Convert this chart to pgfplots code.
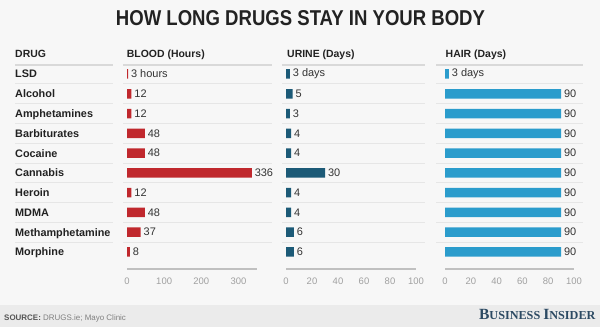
\documentclass[border=0pt]{standalone}
\usepackage{pgfplots}
\usepackage{pgfplotstable}
\pgfplotsset{compat=1.18}
\usepackage{fontspec}
\usepackage{graphicx}
\setmainfont{Liberation Sans}
\newfontfamily\biserif{Liberation Serif}

\definecolor{bg}{HTML}{F7F7F7}
\definecolor{footer}{HTML}{EBEBEB}
\definecolor{bloodred}{HTML}{C0282D}
\definecolor{urineblue}{HTML}{1C5A77}
\definecolor{hairblue}{HTML}{2B9CCC}
\definecolor{dark}{HTML}{222222}
\definecolor{valgray}{HTML}{333333}
\definecolor{tickgray}{HTML}{A0A0A0}
\definecolor{axisgray}{HTML}{C0C0C0}
\definecolor{headline}{HTML}{D9D9D9}
\definecolor{sepline}{HTML}{E6E6E6}
\definecolor{srcdark}{HTML}{555555}
\definecolor{srcgray}{HTML}{808080}
\definecolor{binavy}{HTML}{2C4A63}

\pgfplotstableread{
y x label
9 3 {3 hours}
8 12 12
7 12 12
6 48 48
5 48 48
4 336 336
3 12 12
2 48 48
1 37 37
0 8 8
}\blood
\pgfplotstableread{
y x label
9 3 {3 days}
8 5 5
7 3 3
6 4 4
5 4 4
4 30 30
3 4 4
2 4 4
1 6 6
0 6 6
}\urine
\pgfplotstableread{
y x label
9 3 {3 days}
8 90 90
7 90 90
6 90 90
5 90 90
4 90 90
3 90 90
2 90 90
1 90 90
0 90 90
}\hair

\pgfplotsset{colaxis/.style={
  scale only axis, width=130bp, height=204.9bp,
  anchor=north west,
  xmin=0, ymin=-0.86, ymax=9.5,
  axis x line*=bottom, axis y line=none,
  axis line style={draw=axisgray, line width=2bp, -},
  ytick=\empty,
  major tick length=0pt,
  /pgf/number format/assume math mode=true,
  xticklabel style={font=\fontsize{9.5}{10}\selectfont, text=tickgray, yshift=-5.5bp},
  xbar, bar width=9.5bp,
  nodes near coords, point meta=explicit symbolic,
  nodes near coords style={font=\fontsize{11}{12}\selectfont, text=valgray, anchor=west, inner xsep=2.8bp, inner ysep=0pt},
  clip=false,
}}

\begin{document}
\begin{tikzpicture}
\useasboundingbox (0,0) rectangle (600bp,-327bp);
\begin{scope}[x=1bp,y=-1bp]
\fill[bg] (0,0) rectangle (600,327);
\fill[footer] (0,305) rectangle (600,327);
% title
\node[anchor=north, inner sep=0, text=dark] at (300.5,10) {\resizebox{369bp}{15bp}{\bfseries HOW LONG DRUGS STAY IN YOUR BODY}};
% headers
\foreach \hx/\hdr in {15/DRUG, 126.7/BLOOD (Hours), 287/URINE (Days), 445.5/HAIR (Days)}
  \node[anchor=base west, inner sep=0, text=dark, font=\fontsize{10.5}{12}\selectfont\bfseries] at (\hx,57) {\hdr};
% header lines
\foreach \a/\b in {15/113, 123/272, 282/425, 436/583}
  \draw[headline, line width=2bp] (\a,64.6) -- (\b,64.6);
% row separators
\foreach \i in {0,...,8}
  \foreach \a/\b in {15/113, 123/272, 282/425, 436/583}
    \draw[sepline, line width=1bp] (\a,{83.89+19.78*\i}) -- (\b,{83.89+19.78*\i});
% row labels
\foreach \n [count=\i from 0] in {LSD, Alcohol, Amphetamines, Barbiturates, Cocaine, Cannabis, Heroin, MDMA, Methamphetamine, Morphine}
  \node[anchor=base west, inner sep=0, text=dark, font=\fontsize{10.9}{12}\selectfont\bfseries] at (15,{77.9+19.78*\i}) {\n};
% footer
\node[anchor=base west, inner sep=0, font=\fontsize{8}{9}\selectfont] at (4,320.6) {\textcolor{srcdark}{\bfseries SOURCE:} \textcolor{srcgray}{DRUGS.ie; Mayo Clinic}};
\node[anchor=base east, inner sep=0, text=binavy] at (595.7,319.3) {\resizebox{116.4bp}{!}{\biserif\bfseries\fontsize{13}{14}\selectfont B\fontsize{10.2}{11}\selectfont USINESS \fontsize{13}{14}\selectfont I\fontsize{10.2}{11}\selectfont NSIDER}};
\end{scope}

\begin{axis}[colaxis, at={(127bp,-64.1bp)}, xmax=350, xtick={0,100,200,300}]
\addplot[fill=bloodred, draw=none] table[x=x, y=y, meta=label] {\blood};
\end{axis}
\begin{axis}[colaxis, at={(286bp,-64.1bp)}, xmax=100, xtick={0,20,...,100}]
\addplot[fill=urineblue, draw=none] table[x=x, y=y, meta=label] {\urine};
\end{axis}
\begin{axis}[colaxis, at={(445bp,-64.1bp)}, width=129bp, xmax=100, xtick={0,20,...,100}]
\addplot[fill=hairblue, draw=none] table[x=x, y=y, meta=label] {\hair};
\end{axis}
\end{tikzpicture}
\end{document}
